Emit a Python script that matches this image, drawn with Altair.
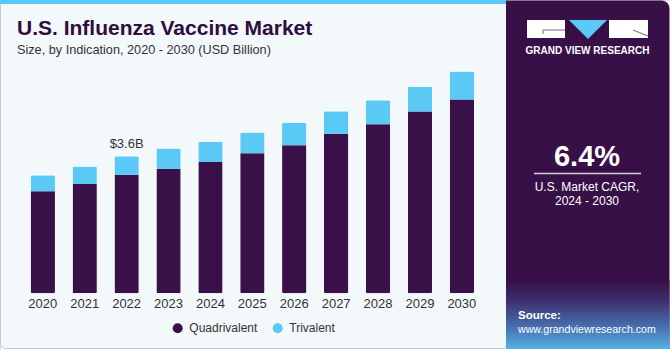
import altair as alt
import pandas as pd

# ---- data ----
years = ["2020", "2021", "2022", "2023", "2024", "2025", "2026", "2027", "2028", "2029", "2030"]
quadrivalent = [2.68, 2.87, 3.11, 3.26, 3.45, 3.68, 3.89, 4.19, 4.44, 4.77, 5.09]
trivalent = [0.42, 0.46, 0.49, 0.54, 0.53, 0.54, 0.58, 0.59, 0.63, 0.65, 0.73]
series_names = ["Quadrivalent", "Trivalent"]
series_colors = ["#3a1049", "#5bc9f5"]
annot_year = ["2022"]
annot_total = [3.6]
annot_label = ["$3.6B"]

title_text = "U.S. Influenza Vaccine Market"
subtitle_text = "Size, by Indication, 2020 - 2030 (USD Billion)"
cagr_value = "6.4%"
cagr_line1 = "U.S. Market CAGR,"
cagr_line2 = "2024 - 2030"
brand_text = "GRAND VIEW RESEARCH"
source_label = "Source:"
source_url = "www.grandviewresearch.com"

FONT = "Liberation Sans"
PURPLE = "#371047"

rows = []
for i, y in enumerate(years):
    rows.append({"year": y, "series": series_names[0], "value": quadrivalent[i], "order": 0})
    rows.append({"year": y, "series": series_names[1], "value": trivalent[i], "order": 1})
bars_df = pd.DataFrame(rows)
annot_df = pd.DataFrame({"year": annot_year, "total": annot_total, "label": annot_label})
years_df = pd.DataFrame({"year": years})
one = pd.DataFrame({"k": [0]})

xscale = alt.Scale(domain=years, range=[21.85, 482.8], paddingInner=0.42, paddingOuter=0.21)
yscale = alt.Scale(domain=[0, 7.7], range=[293.3, 0], nice=False, zero=True)


def rect(x, x2, y, y2, **kw):
    return alt.Chart(one).mark_rect(**kw).encode(
        x=alt.value(x), x2=alt.value(x2), y=alt.value(y), y2=alt.value(y2))


def rule(x, x2, y, y2, **kw):
    return alt.Chart(one).mark_rule(**kw).encode(
        x=alt.value(x), x2=alt.value(x2), y=alt.value(y), y2=alt.value(y2))


def label(text, x, y, **kw):
    return alt.Chart(one).mark_text(text=text, **kw).encode(x=alt.value(x), y=alt.value(y))


# ---- background panels ----
main_panel = rect(0.5, 507, 0.5, 348.5, fill="#f3f8fb", stroke="#c8c8c8", strokeWidth=1, cornerRadius=5)
top_strip = rect(0, 506, 0, 4, fill="#5bc9f5")
right_panel = rect(506, 669.5, 0.5, 349, fill=PURPLE, cornerRadiusTopRight=8)
grad = alt.Gradient(
    gradient="linear",
    stops=[
        alt.GradientStop(color=PURPLE, offset=0),
        alt.GradientStop(color="#3d2f6e", offset=0.3),
        alt.GradientStop(color="#4873b2", offset=0.7),
        alt.GradientStop(color="#58b2e4", offset=1),
    ],
    x1=0, x2=0, y1=0, y2=1,
)
gradient_panel = rect(506, 669.5, 280, 349, color=grad)

# ---- bars ----
bars = alt.Chart(bars_df).mark_bar(cornerRadius=1.5).encode(
    x=alt.X("year:N", scale=xscale, axis=None),
    y=alt.Y("value:Q", stack="zero", scale=yscale, axis=None),
    color=alt.Color(
        "series:N",
        scale=alt.Scale(domain=series_names, range=series_colors),
        legend=alt.Legend(
            orient="none", legendX=171.7, legendY=322.3, direction="horizontal",
            title=None, symbolType="circle", symbolSize=100, symbolStrokeWidth=0,
            labelFontSize=12, labelColor="#333333", labelFont=FONT,
            columnPadding=14, labelOffset=5.6, padding=0,
        ),
    ),
    order=alt.Order("order:Q"),
)

year_labels = alt.Chart(years_df).mark_text(
    font=FONT, fontSize=13, color="#333333", baseline="middle"
).encode(
    x=alt.X("year:N", scale=xscale, axis=None),
    y=alt.value(303.5),
    text="year:N",
)

annot = alt.Chart(annot_df).mark_text(
    font=FONT, fontSize=13, color="#333333", baseline="bottom", dy=-5
).encode(
    x=alt.X("year:N", scale=xscale, axis=None),
    y=alt.Y("total:Q", scale=yscale, axis=None),
    text="label:N",
)

# ---- titles ----
title = label(title_text, 17, 35, align="left", baseline="alphabetic", font=FONT,
              fontSize=21, fontWeight="bold", color="#2e0d3f")
subtitle = label(subtitle_text, 17, 54, align="left", baseline="alphabetic", font=FONT,
                 fontSize=12.7, color="#333333")

# ---- logo ----
logo_g = rect(527, 565, 20, 38, fill="white")
logo_r = rect(609, 648, 20, 38, fill="white")
logo_tri = alt.Chart(one).mark_point(
    shape="M -1 -0.5 L 1 -0.5 L 0 0.5 Z", size=1444, filled=True, fill="#5bc9f5", opacity=1, strokeWidth=0
).encode(x=alt.value(588), y=alt.value(29.5))
g_line1 = rule(543, 565, 30, 30, color="#8a7b95", strokeWidth=1.2)
g_line2 = rule(543, 543, 30, 34, color="#8a7b95", strokeWidth=1.2)
r_line = rule(633, 648, 30, 36, color="#8a7b95", strokeWidth=1.2)
brand = label(brand_text, 587.5, 53.5, align="center", baseline="alphabetic", font=FONT,
              fontSize=10, fontWeight="bold", color="white")

# ---- CAGR ----
cagr = label(cagr_value, 587, 166, align="center", baseline="alphabetic", font=FONT,
             fontSize=29, fontWeight="bold", color="white")
cagr_rule = rule(534, 641, 173.5, 173.5, color="#d6cfdc", strokeWidth=1.5)
cagr_l1 = label(cagr_line1, 587, 190.5, align="center", baseline="alphabetic", font=FONT,
                fontSize=12, color="white")
cagr_l2 = label(cagr_line2, 587, 204.5, align="center", baseline="alphabetic", font=FONT,
                fontSize=12, color="white")

src1 = label(source_label, 518, 319, align="left", baseline="alphabetic", font=FONT,
             fontSize=11.5, fontWeight="bold", color="white")
src2 = label(source_url, 518, 332.5, align="left", baseline="alphabetic", font=FONT,
             fontSize=10.6, color="white")

chart = alt.layer(
    main_panel, top_strip, right_panel, gradient_panel,
    bars, year_labels, annot, title, subtitle,
    logo_g, logo_r, logo_tri, g_line1, g_line2, r_line, brand,
    cagr, cagr_rule, cagr_l1, cagr_l2, src1, src2,
).properties(
    width=670, height=350, padding=0,
    autosize=alt.AutoSizeParams(type="none"),
).configure_view(stroke=None).configure(background="white")

chart.save("out.html", embed_options={"renderer": "svg", "actions": False})
